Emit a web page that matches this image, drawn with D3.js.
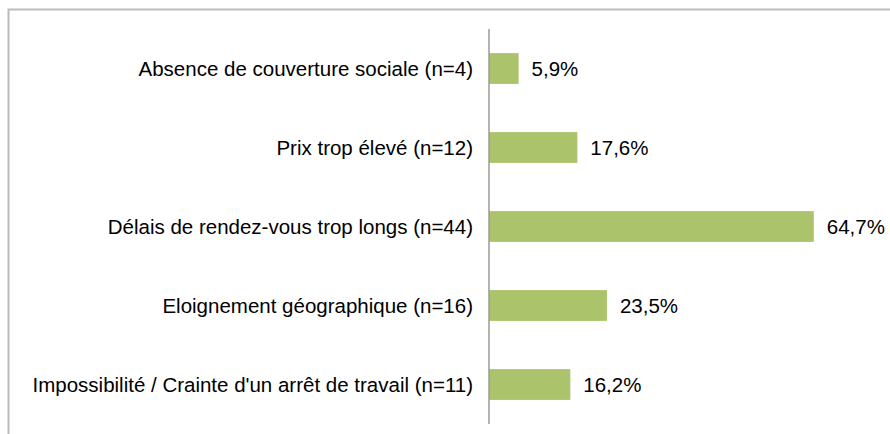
<!DOCTYPE html>
<html>
<head>
<meta charset="utf-8">
<script src="https://cdn.jsdelivr.net/npm/d3@7"></script>
<style>
  body { margin: 0; background: #fff; }
  text { font-family: "Liberation Sans", Arial, sans-serif; fill: #000; }
</style>
</head>
<body>
<svg id="chart" width="890" height="434"></svg>
<script>
const categories = [
  'Absence de couverture sociale (n=4)',
  'Prix trop élevé (n=12)',
  'Délais de rendez-vous trop longs (n=44)',
  'Eloignement géographique (n=16)',
  "Impossibilité / Crainte d'un arrêt de travail (n=11)"
];
const values = [5.9, 17.6, 64.7, 23.5, 16.2];
const valueLabels = ['5,9%', '17,6%', '64,7%', '23,5%', '16,2%'];

const svg = d3.select('#chart');

// outer frame (runs off the right/bottom edge)
svg.append('rect')
  .attr('x', 8.5).attr('y', 9.5)
  .attr('width', 1000).attr('height', 1000)
  .attr('fill', 'none')
  .attr('stroke', '#bcbcbc')
  .attr('stroke-width', 2);

const x0 = 489;
const xScale = d3.scaleLinear().domain([0, 100]).range([x0, x0 + 502]);
const yScale = d3.scaleBand().domain(categories).range([29, 424]).paddingInner(0.61).paddingOuter(0.305);

const data = categories.map((c, i) => ({ cat: c, v: values[i], label: valueLabels[i] }));

svg.append('g')
  .selectAll('rect.bar')
  .data(data)
  .join('rect')
  .attr('class', 'bar')
  .attr('x', xScale(0))
  .attr('y', d => yScale(d.cat))
  .attr('width', d => xScale(d.v) - xScale(0))
  .attr('height', yScale.bandwidth())
  .attr('fill', '#abc46c');

// category axis line
svg.append('line')
  .attr('x1', x0).attr('x2', x0)
  .attr('y1', 29).attr('y2', 424)
  .attr('stroke', '#9a9a9a')
  .attr('stroke-width', 1.5);

svg.append('g')
  .selectAll('text.cat')
  .data(data)
  .join('text')
  .attr('class', 'cat')
  .attr('x', 473)
  .attr('y', d => yScale(d.cat) + yScale.bandwidth() / 2)
  .attr('dy', '0.35em')
  .attr('text-anchor', 'end')
  .attr('font-size', 20.5)
  .text(d => d.cat);

svg.append('g')
  .selectAll('text.val')
  .data(data)
  .join('text')
  .attr('class', 'val')
  .attr('x', d => xScale(d.v) + 13)
  .attr('y', d => yScale(d.cat) + yScale.bandwidth() / 2)
  .attr('dy', '0.35em')
  .attr('font-size', 20.5)
  .text(d => d.label);
</script>
</body>
</html>
